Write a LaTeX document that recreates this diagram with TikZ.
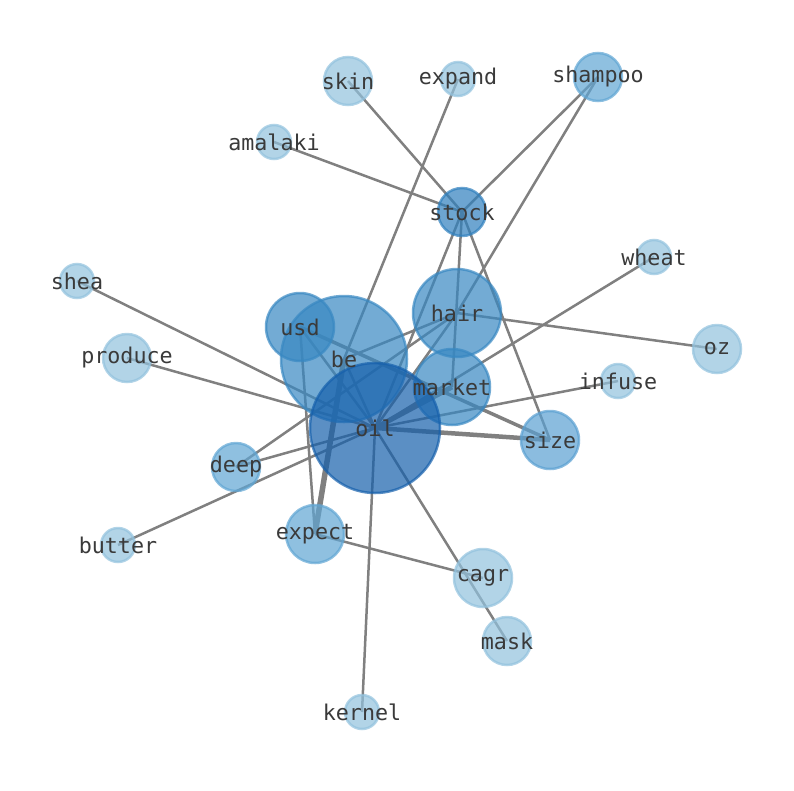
\documentclass[tikz,border=0pt]{standalone}
\usepackage{fontspec}
\newfontfamily\lblfont{DejaVu Sans Mono}
\definecolor{cLight}{RGB}{146,194,222}
\definecolor{cMid}{RGB}{96,166,212}
\definecolor{cSize}{RGB}{90,160,210}
\definecolor{cBig}{RGB}{56,136,194}
\definecolor{cStock}{RGB}{48,128,190}
\definecolor{cOil}{RGB}{22,96,172}
\definecolor{cEdge}{RGB}{128,128,128}
\definecolor{cText}{RGB}{58,58,58}
\tikzset{
  edge/.style={draw=cEdge, line width=2.5pt},
  bubble/.style={circle, inner sep=0pt, outer sep=0pt, line width=2.5pt, fill opacity=0.7, draw opacity=0.7, fill=#1, draw=#1},
  lbl/.style={inner sep=0pt, text=cText, font=\lblfont\fontsize{21.7}{25}\selectfont}
}
\begin{document}
\begin{tikzpicture}[x=1pt,y=-1pt]
\useasboundingbox[fill=white] (0,0) rectangle (794,790);
% centres
\coordinate (oil) at (375,428);
\coordinate (be) at (344,359);
\coordinate (usd) at (300,327);
\coordinate (hair) at (457,313);
\coordinate (market) at (452,387);
\coordinate (size) at (550,440);
\coordinate (stock) at (462,212);
\coordinate (shampoo) at (598,77);
\coordinate (skin) at (348,81);
\coordinate (expand) at (458,79);
\coordinate (amalaki) at (274,142);
\coordinate (wheat) at (654,257);
\coordinate (shea) at (77,281);
\coordinate (produce) at (127,358);
\coordinate (oz) at (717,349);
\coordinate (infuse) at (618,381);
\coordinate (deep) at (236,467);
\coordinate (butter) at (118,545);
\coordinate (expect) at (315,534);
\coordinate (cagr) at (483,578);
\coordinate (mask) at (507,641);
\coordinate (kernel) at (362,712);
% edges
\draw[edge] (amalaki) -- (stock);
\draw[edge] (skin) -- (stock);
\draw[edge] (shampoo) -- (stock);
\draw[edge] (shampoo) -- (hair);
\draw[edge] (expand) -- (be);
\draw[edge] (stock) -- (oil);
\draw[edge] (stock) -- (market);
\draw[edge] (stock) -- (size);
\draw[edge] (hair) -- (oz);
\draw[edge] (hair) -- (be);
\draw[edge] (hair) -- (oil);
\draw[edge] (hair) -- (deep);
\draw[edge] (wheat) -- (oil);
\draw[edge] (infuse) -- (oil);
\draw[edge, line width=4.5pt] (oil) -- (size);
\draw[edge, line width=5pt] (oil) -- (market);
\draw[edge, line width=3.5pt] (usd) -- (size);
\draw[edge] (usd) -- (oil);
\draw[edge] (usd) -- (expect);
\draw[edge, line width=5.5pt] (be) -- (expect);
\draw[edge] (be) -- (oil);
\draw[edge] (shea) -- (oil);
\draw[edge] (produce) -- (oil);
\draw[edge] (deep) -- (oil);
\draw[edge] (butter) -- (oil);
\draw[edge] (kernel) -- (oil);
\draw[edge] (oil) -- (mask);
\draw[edge] (expect) -- (cagr);
% bubbles
\node[bubble=cLight, minimum size=48pt] (n-skin) at (skin) {};
\node[bubble=cLight, minimum size=34pt] (n-expand) at (expand) {};
\node[bubble=cMid, minimum size=48pt] (n-shampoo) at (shampoo) {};
\node[bubble=cLight, minimum size=34pt] (n-amalaki) at (amalaki) {};
\node[bubble=cStock, minimum size=48pt] (n-stock) at (stock) {};
\node[bubble=cLight, minimum size=34pt] (n-wheat) at (wheat) {};
\node[bubble=cLight, minimum size=34pt] (n-shea) at (shea) {};
\node[bubble=cLight, minimum size=48pt] (n-produce) at (produce) {};
\node[bubble=cLight, minimum size=48pt] (n-oz) at (oz) {};
\node[bubble=cLight, minimum size=34pt] (n-infuse) at (infuse) {};
\node[bubble=cMid, minimum size=48pt] (n-deep) at (deep) {};
\node[bubble=cLight, minimum size=34pt] (n-butter) at (butter) {};
\node[bubble=cMid, minimum size=58pt] (n-expect) at (expect) {};
\node[bubble=cLight, minimum size=58pt] (n-cagr) at (cagr) {};
\node[bubble=cLight, minimum size=48pt] (n-mask) at (mask) {};
\node[bubble=cLight, minimum size=34pt] (n-kernel) at (kernel) {};
\node[bubble=cSize, minimum size=58pt] (n-size) at (size) {};
\node[bubble=cBig, minimum size=88pt] (n-hair) at (hair) {};
\node[bubble=cBig, minimum size=76pt] (n-market) at (market) {};
\node[bubble=cBig, minimum size=126pt] (n-be) at (be) {};
\node[bubble=cBig, minimum size=68pt] (n-usd) at (usd) {};
\node[bubble=cOil, minimum size=130pt] (n-oil) at (oil) {};
% labels
\node[lbl] (t-skin) at (skin) {skin};
\node[lbl] (t-expand) at (expand) {expand};
\node[lbl] (t-shampoo) at (shampoo) {shampoo};
\node[lbl] (t-amalaki) at (amalaki) {amalaki};
\node[lbl] (t-stock) at (stock) {stock};
\node[lbl] (t-wheat) at (wheat) {wheat};
\node[lbl] (t-shea) at (shea) {shea};
\node[lbl] (t-produce) at (produce) {produce};
\node[lbl] (t-oz) at (oz) {oz};
\node[lbl] (t-infuse) at (infuse) {infuse};
\node[lbl] (t-deep) at (deep) {deep};
\node[lbl] (t-butter) at (butter) {butter};
\node[lbl] (t-expect) at (expect) {expect};
\node[lbl] (t-cagr) at (cagr) {cagr};
\node[lbl] (t-mask) at (mask) {mask};
\node[lbl] (t-kernel) at (kernel) {kernel};
\node[lbl] (t-size) at (size) {size};
\node[lbl] (t-hair) at (hair) {hair};
\node[lbl] (t-market) at (market) {market};
\node[lbl] (t-be) at (be) {be};
\node[lbl] (t-usd) at (usd) {usd};
\node[lbl] (t-oil) at (oil) {oil};
\end{tikzpicture}
\end{document}
